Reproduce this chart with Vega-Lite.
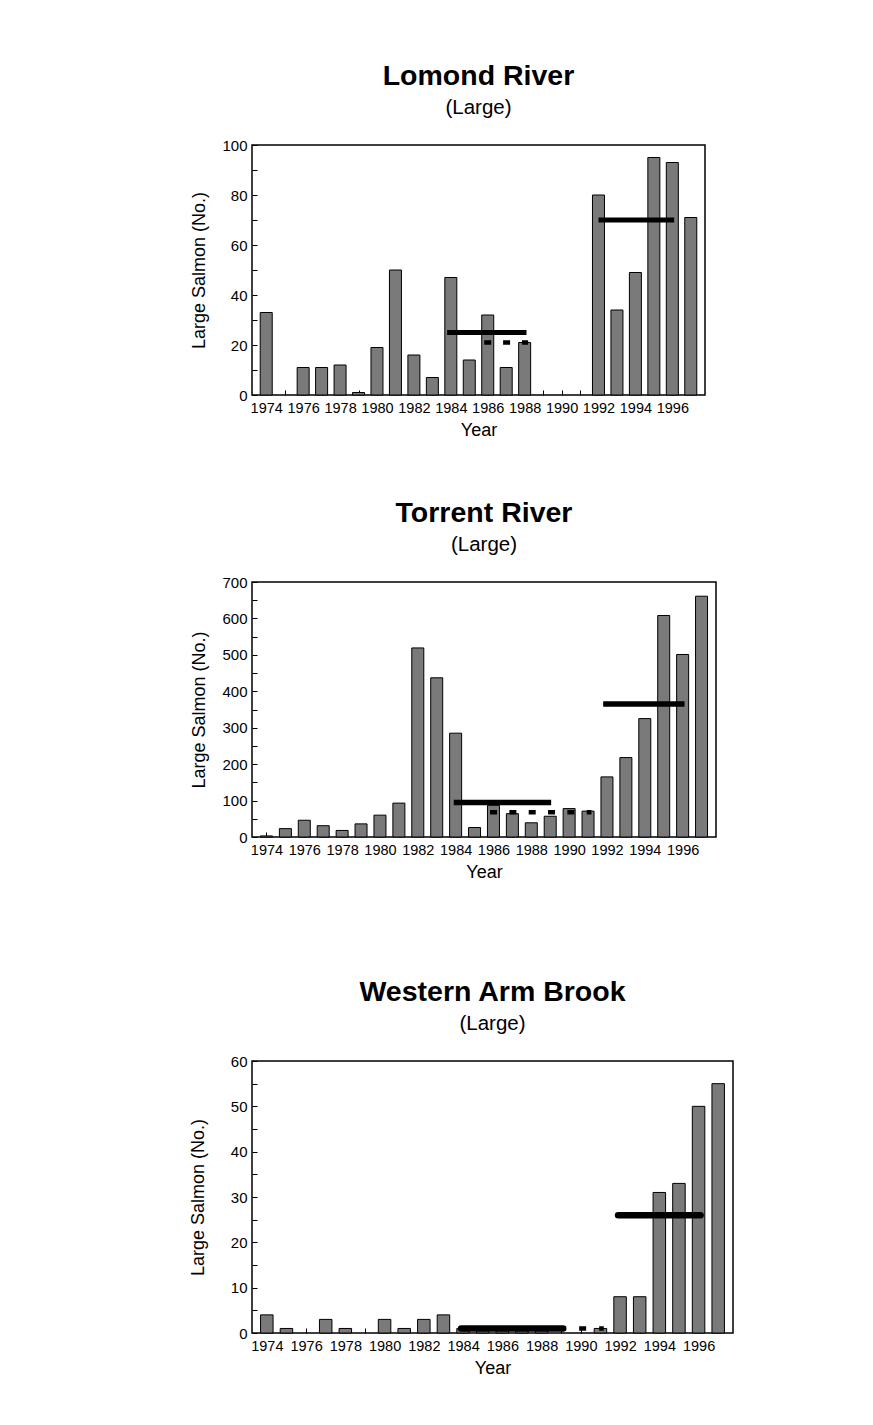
{
  "$schema": "https://vega.github.io/schema/vega-lite/v6.json",
  "padding": {"left": 188, "top": 61, "right": 5, "bottom": 5},
  "background": "white",
  "datasets": {
    "lomond": [
      {"year": 1974, "n": 33}, {"year": 1976, "n": 11}, {"year": 1977, "n": 11}, {"year": 1978, "n": 12},
      {"year": 1979, "n": 1}, {"year": 1980, "n": 19}, {"year": 1981, "n": 50}, {"year": 1982, "n": 16},
      {"year": 1983, "n": 7}, {"year": 1984, "n": 47}, {"year": 1985, "n": 14}, {"year": 1986, "n": 32},
      {"year": 1987, "n": 11}, {"year": 1988, "n": 21}, {"year": 1992, "n": 80}, {"year": 1993, "n": 34},
      {"year": 1994, "n": 49}, {"year": 1995, "n": 95}, {"year": 1996, "n": 93}, {"year": 1997, "n": 71}
    ],
    "lomond_solid": [{"year": 1983.8, "year_end": 1988.1, "n": 25}, {"year": 1992.0, "year_end": 1996.1, "n": 70}],
    "lomond_dash": [{"year": 1985.81, "year_end": 1988.19, "n": 21}],
    "torrent": [
      {"year": 1974, "n": 3}, {"year": 1975, "n": 23}, {"year": 1976, "n": 46}, {"year": 1977, "n": 31},
      {"year": 1978, "n": 18}, {"year": 1979, "n": 36}, {"year": 1980, "n": 60}, {"year": 1981, "n": 93},
      {"year": 1982, "n": 519}, {"year": 1983, "n": 437}, {"year": 1984, "n": 285}, {"year": 1985, "n": 26},
      {"year": 1986, "n": 87}, {"year": 1987, "n": 64}, {"year": 1988, "n": 39}, {"year": 1989, "n": 57},
      {"year": 1990, "n": 78}, {"year": 1991, "n": 71}, {"year": 1992, "n": 165}, {"year": 1993, "n": 218},
      {"year": 1994, "n": 325}, {"year": 1995, "n": 608}, {"year": 1996, "n": 501}, {"year": 1997, "n": 661}
    ],
    "torrent_solid": [{"year": 1983.9, "year_end": 1989.05, "n": 95}, {"year": 1991.8, "year_end": 1996.1, "n": 365}],
    "torrent_dash": [{"year": 1985.82, "year_end": 1991.18, "n": 68}],
    "wab": [
      {"year": 1974, "n": 4}, {"year": 1975, "n": 1}, {"year": 1977, "n": 3}, {"year": 1978, "n": 1},
      {"year": 1980, "n": 3}, {"year": 1981, "n": 1}, {"year": 1982, "n": 3}, {"year": 1983, "n": 4},
      {"year": 1984, "n": 1}, {"year": 1985, "n": 1}, {"year": 1986, "n": 1}, {"year": 1987, "n": 1},
      {"year": 1988, "n": 1}, {"year": 1991, "n": 1}, {"year": 1992, "n": 8}, {"year": 1993, "n": 8},
      {"year": 1994, "n": 31}, {"year": 1995, "n": 33}, {"year": 1996, "n": 50}, {"year": 1997, "n": 55}
    ],
    "wab_solid": [{"year": 1983.9, "year_end": 1989.1, "n": 1}, {"year": 1991.9, "year_end": 1996.1, "n": 26}],
    "wab_dash": [{"year": 1985.83, "year_end": 1991.17, "n": 1}]
  },
  "spacing": 95,
  "vconcat": [
    {
      "spacing": 58,
      "vconcat": [
        {
          "title": {"text": "Lomond River", "subtitle": "(Large)"},
          "width": 453, "height": 250,
          "encoding": {
            "x": {"field": "year", "type": "quantitative",
                  "scale": {"domain": [1973.5, 1997.5], "nice": false, "zero": false},
                  "axis": {"title": "Year",
                           "values": [1974,1974.5,1975,1975.5,1976,1976.5,1977,1977.5,1978,1978.5,1979,1979.5,1980,1980.5,1981,1981.5,1982,1982.5,1983,1983.5,1984,1984.5,1985,1985.5,1986,1986.5,1987,1987.5,1988,1988.5,1989,1989.5,1990,1990.5,1991,1991.5,1992,1992.5,1993,1993.5,1994,1994.5,1995,1995.5,1996,1996.5,1997,1997.5],
                           "labelExpr": "datum.value % 2 === 0 ? datum.label : ''", "format": "d", "labelOverlap": false}},
            "y": {"field": "n", "type": "quantitative",
                  "scale": {"domain": [0, 100], "nice": false},
                  "axis": {"title": "Large Salmon (No.)", "values": [0,10,20,30,40,50,60,70,80,90,100],
                           "labelExpr": "datum.value % 20 === 0 ? datum.label : ''", "labelOverlap": false,
                           "titlePadding": 13}}
          },
          "layer": [
            {"data": {"name": "lomond"},
             "mark": {"type": "bar", "size": 12, "fill": "#7a7a7a", "stroke": "black", "strokeWidth": 1}},
            {"data": {"name": "lomond_solid"},
             "mark": {"type": "rule", "strokeWidth": 5, "color": "black"},
             "encoding": {"x2": {"field": "year_end"}}},
            {"data": {"name": "lomond_dash"},
             "mark": {"type": "rule", "strokeWidth": 4.5, "color": "black", "strokeDash": [7, 11.875]},
             "encoding": {"x2": {"field": "year_end"}}}
          ]
        },
        {
          "title": {"text": "Torrent River", "subtitle": "(Large)"},
          "width": 464, "height": 255,
          "encoding": {
            "x": {"field": "year", "type": "quantitative",
                  "scale": {"domain": [1973.5, 1997.5], "nice": false, "zero": false},
                  "axis": {"title": "Year",
                           "values": [1974,1974.5,1975,1975.5,1976,1976.5,1977,1977.5,1978,1978.5,1979,1979.5,1980,1980.5,1981,1981.5,1982,1982.5,1983,1983.5,1984,1984.5,1985,1985.5,1986,1986.5,1987,1987.5,1988,1988.5,1989,1989.5,1990,1990.5,1991,1991.5,1992,1992.5,1993,1993.5,1994,1994.5,1995,1995.5,1996,1996.5,1997,1997.5],
                           "labelExpr": "datum.value % 2 === 0 ? datum.label : ''", "format": "d", "labelOverlap": false}},
            "y": {"field": "n", "type": "quantitative",
                  "scale": {"domain": [0, 700], "nice": false},
                  "axis": {"title": "Large Salmon (No.)", "values": [0,50,100,150,200,250,300,350,400,450,500,550,600,650,700],
                           "labelExpr": "datum.value % 100 === 0 ? datum.label : ''", "labelOverlap": false,
                           "titlePadding": 13}}
          },
          "layer": [
            {"data": {"name": "torrent"},
             "mark": {"type": "bar", "size": 12, "fill": "#7a7a7a", "stroke": "black", "strokeWidth": 1}},
            {"data": {"name": "torrent_solid"},
             "mark": {"type": "rule", "strokeWidth": 5.5, "color": "black"},
             "encoding": {"x2": {"field": "year_end"}}},
            {"data": {"name": "torrent_dash"},
             "mark": {"type": "rule", "strokeWidth": 4.5, "color": "black", "strokeDash": [7, 12.33]},
             "encoding": {"x2": {"field": "year_end"}}}
          ]
        }
      ]
    },
    {
      "title": {"text": "Western Arm Brook", "subtitle": "(Large)"},
      "width": 481, "height": 272,
      "encoding": {
        "x": {"field": "year", "type": "quantitative",
              "scale": {"domain": [1973.5, 1997.5], "nice": false, "zero": false},
              "axis": {"title": "Year",
                       "values": [1974,1974.5,1975,1975.5,1976,1976.5,1977,1977.5,1978,1978.5,1979,1979.5,1980,1980.5,1981,1981.5,1982,1982.5,1983,1983.5,1984,1984.5,1985,1985.5,1986,1986.5,1987,1987.5,1988,1988.5,1989,1989.5,1990,1990.5,1991,1991.5,1992,1992.5,1993,1993.5,1994,1994.5,1995,1995.5,1996,1996.5,1997,1997.5],
                       "labelExpr": "datum.value % 2 === 0 ? datum.label : ''", "format": "d", "labelOverlap": false}},
        "y": {"field": "n", "type": "quantitative",
              "scale": {"domain": [0, 60], "nice": false},
              "axis": {"title": "Large Salmon (No.)", "values": [0,5,10,15,20,25,30,35,40,45,50,55,60],
                       "labelExpr": "datum.value % 10 === 0 ? datum.label : ''", "labelOverlap": false,
                       "titlePadding": 23}}
      },
      "layer": [
        {"data": {"name": "wab"},
         "mark": {"type": "bar", "size": 12.5, "fill": "#7a7a7a", "stroke": "black", "strokeWidth": 1}},
        {"data": {"name": "wab_solid"},
         "mark": {"type": "rule", "strokeWidth": 6.5, "color": "black", "strokeCap": "round"},
         "encoding": {"x2": {"field": "year_end"}}},
        {"data": {"name": "wab_dash"},
         "mark": {"type": "rule", "strokeWidth": 4.5, "color": "black", "strokeDash": [7, 13.04]},
         "encoding": {"x2": {"field": "year_end"}}}
      ]
    }
  ],
  "config": {
    "font": "Liberation Sans",
    "view": {"stroke": "black", "strokeWidth": 1.5},
    "title": {"font": "Liberation Sans", "fontSize": 28.5, "fontWeight": "bold", "color": "black",
              "subtitleFont": "Liberation Sans", "subtitleFontSize": 20.5, "subtitleColor": "black",
              "subtitlePadding": 7, "anchor": "middle", "frame": "group", "offset": 20},
    "axis": {"labelFont": "Liberation Sans", "titleFont": "Liberation Sans", "labelColor": "black", "titleColor": "black",
             "tickColor": "black", "domain": false, "grid": false, "titleFontWeight": "normal",
             "labelFlush": false, "tickSize": 5, "offset": -5, "titleFontSize": 18},
    "axisX": {"labelFontSize": 14.5, "labelPadding": 6, "titlePadding": 6.5},
    "axisY": {"labelFontSize": 15, "labelPadding": 5}
  }
}
